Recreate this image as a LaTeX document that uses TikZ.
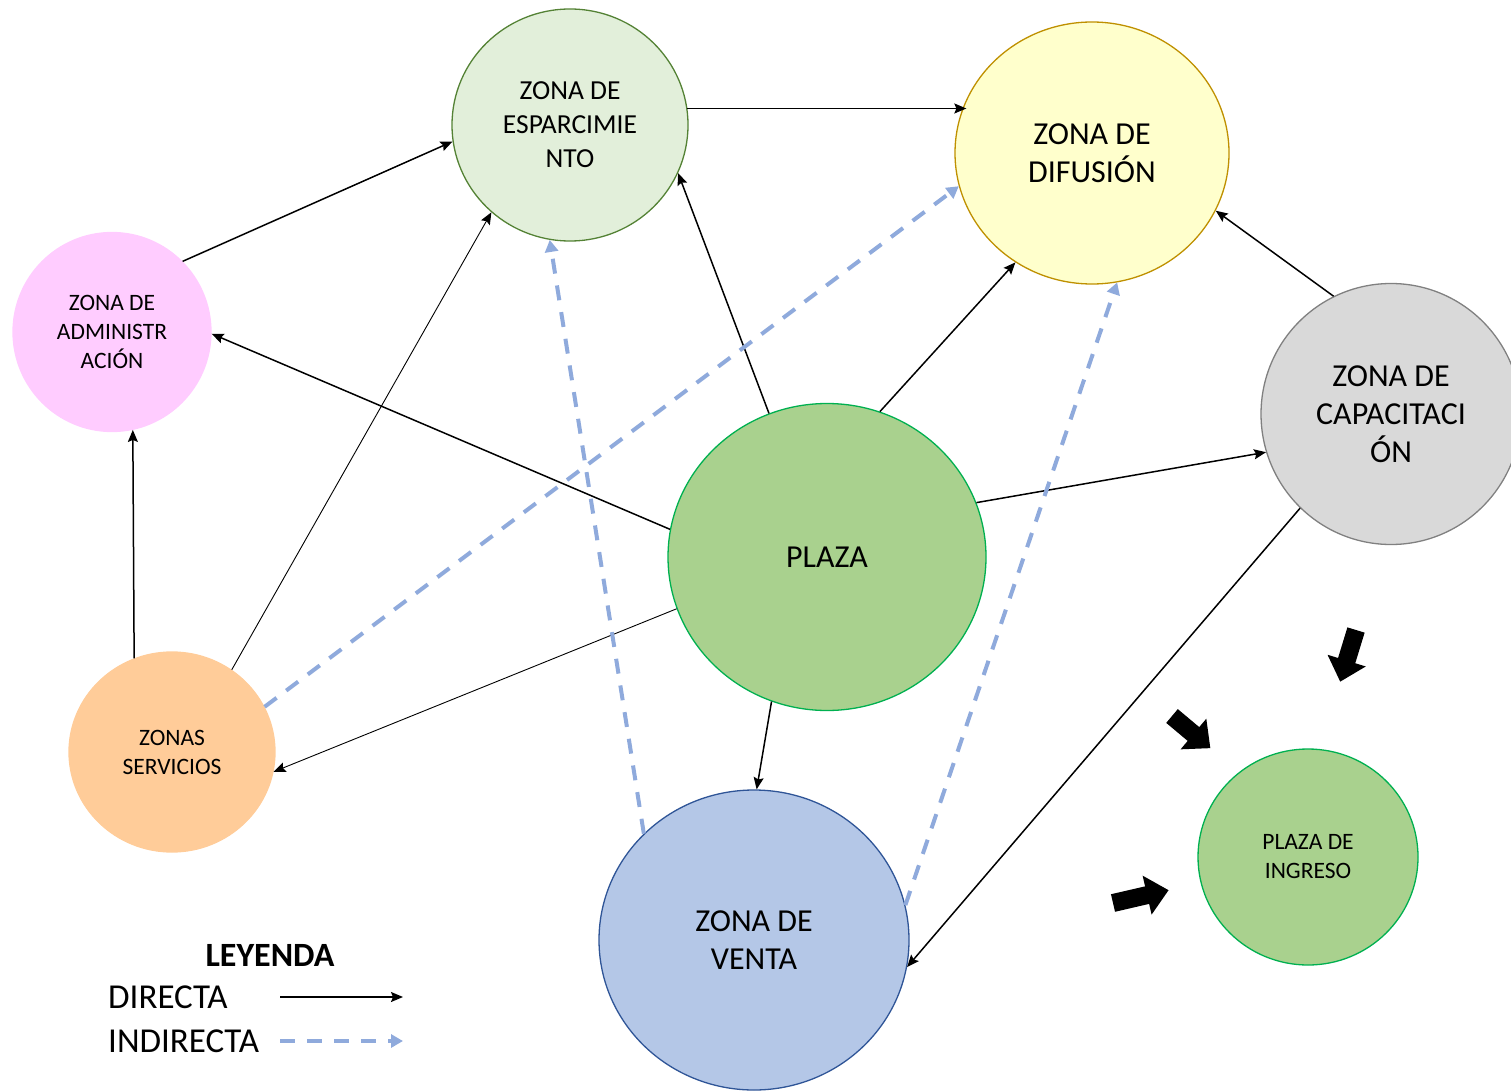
\documentclass[tikz,border=0pt]{standalone}
\usepackage{fontspec}
\setmainfont{Carlito}
\usetikzlibrary{shapes.geometric,arrows.meta}
\definecolor{espfill}{HTML}{E2EFDA}\definecolor{espline}{HTML}{548235}
\definecolor{diffill}{HTML}{FFFFCC}\definecolor{difline}{HTML}{BF9000}
\definecolor{admfill}{HTML}{FFCCFF}
\definecolor{capfill}{HTML}{D9D9D9}\definecolor{capline}{HTML}{808080}
\definecolor{plzfill}{HTML}{A9D18E}\definecolor{plzline}{HTML}{00B050}
\definecolor{serfill}{HTML}{FFCC99}
\definecolor{venfill}{HTML}{B4C7E7}\definecolor{venline}{HTML}{2F5597}
\definecolor{indblue}{HTML}{8FAADC}
\tikzset{
  zone/.style={ellipse, inner sep=0pt, align=center, line width=1.3pt},
  bigtext/.style={font=\fontsize{32}{38}\selectfont},
  midtext/.style={font=\fontsize{27.5}{34}\selectfont},
  smalltext/.style={font=\fontsize{23.5}{29}\selectfont},
  direct/.style={line width=1.5pt, -{Stealth[length=12pt,width=10pt,inset=2pt]}},
  directthin/.style={line width=0.9pt, -{Stealth[length=12pt,width=10pt,inset=2pt]}},
  indirect/.style={line width=4pt, indblue, dash pattern=on 15pt off 12pt, -{Triangle[length=12pt,width=13pt]}},
  blockarrow/.style={fill=black}
}
\newcommand{\blockarr}[3]{%
  \begin{scope}[shift={#1}, rotate=#2]
    \fill[blockarrow] (0,-9) -- (#3-22,-9) -- (#3-22,-20) -- (#3,0) -- (#3-22,20) -- (#3-22,9) -- (0,9) -- cycle;
  \end{scope}}
\begin{document}
\begin{tikzpicture}[x=1pt,y=-1pt]
\useasboundingbox (0,0) rectangle (1511,1091);
% zones
\node[zone, midtext, fill=espfill, draw=espline, minimum width=236pt, minimum height=232pt] (E) at (570,125) {ZONA DE\\ESPARCIMIE\\NTO};
\node[zone, bigtext, fill=diffill, draw=difline, minimum width=274pt, minimum height=262pt] (D) at (1092,153) {ZONA DE\\DIFUSIÓN};
\node[zone, smalltext, fill=admfill, draw=admfill, minimum width=198pt, minimum height=199pt] (A) at (112,332) {ZONA DE\\ADMINISTR\\ACIÓN};
\node[zone, bigtext, fill=capfill, draw=capline, minimum width=260pt, minimum height=261pt] (C) at (1391,414) {ZONA DE\\CAPACITACI\\ÓN};
\node[zone, bigtext, fill=plzfill, draw=plzline, minimum width=318pt, minimum height=307pt] (P) at (827,557) {PLAZA};
\node[zone, smalltext, fill=serfill, draw=serfill, minimum width=206pt, minimum height=200pt] (S) at (172,752) {ZONAS\\SERVICIOS};
\node[zone, bigtext, fill=venfill, draw=venline, minimum width=310pt, minimum height=300pt] (V) at (754,940) {ZONA DE\\VENTA};
\node[zone, smalltext, fill=plzfill, draw=plzline, minimum width=220pt, minimum height=216pt] (I) at (1308,857) {PLAZA DE\\INGRESO};
% direct connectors
\draw[direct] (A.45) -- (E.188);
\draw[direct] (E.8.7) -- ([xshift=12pt]E.8.7 -| D.west);
\draw[direct] (P.112.5) -- (E.-24.6);
\draw[direct] (P.70) -- (D.235.6);
\draw[direct] (C.116) -- (D.-25.5);
\draw[direct] (P.20) -- (C.197);
\draw[direct] (P.170.7) -- (A.-1);
\draw[direct] (S.112.5) -- (A.-78);
\draw[directthin] (S.54) -- (E.-132);
\draw[directthin] (P.199) -- (S.-11.7);
\draw[direct] (P.249) -- (V.89);
\draw[direct] (C.226.2) -- (V.-10.7);
% indirect connectors
\draw[indirect] (S.26) -- (D.194);
\draw[indirect] (V.136) -- (E.-100.6);
\draw[indirect] (V.13) -- (D.-79.3);
% block arrows
\blockarr{(1356,630)}{-107}{54}
\blockarr{(1172,716)}{-40}{50}
\blockarr{(1113,903)}{13}{57}
% legend
\node[font=\fontsize{34}{40}\selectfont\bfseries] (L) at (270,955) {LEYENDA};
\node[anchor=west, inner sep=0pt, font=\fontsize{35}{40}\selectfont] (LD) at (108,997) {DIRECTA};
\node[anchor=west, inner sep=0pt, font=\fontsize{35}{40}\selectfont] (LI) at (108,1041) {INDIRECTA};
\coordinate (d1) at (280,997); \coordinate (d2) at (403,997);
\coordinate (i1) at (280,1041); \coordinate (i2) at (403,1041);
\draw[direct] (d1) -- (d2);
\draw[indirect] (i1) -- (i2);
\end{tikzpicture}
\end{document}
